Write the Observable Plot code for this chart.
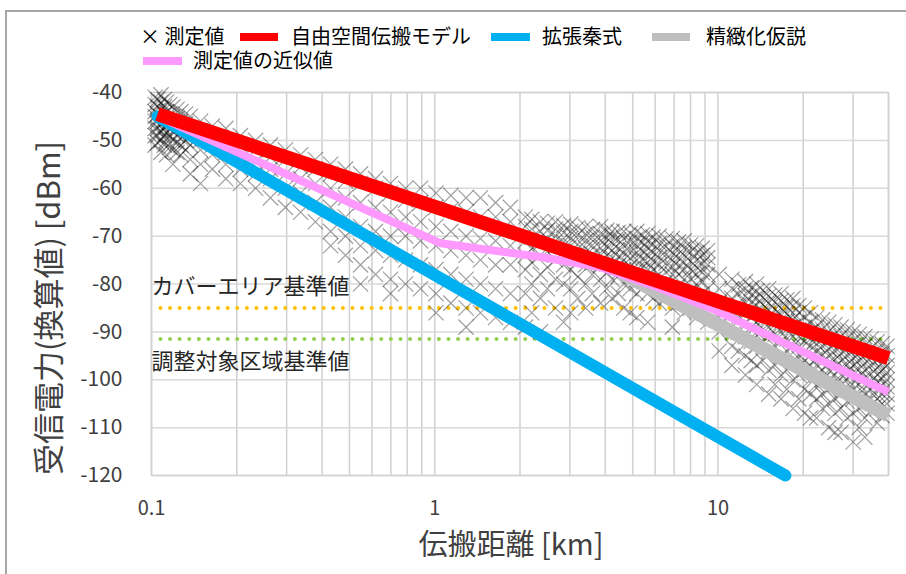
<!DOCTYPE html>
<html><head><meta charset="utf-8">
<script src="https://cdn.jsdelivr.net/npm/d3@7"></script>
<script src="https://cdn.jsdelivr.net/npm/@observablehq/plot@0.6"></script>
<style>
body{margin:0;background:#fff;font-family:"Noto Sans CJK JP","Noto Sans",sans-serif;}
#wrap{position:relative;width:906px;height:574px;overflow:hidden;background:#fff;}
#border{position:absolute;left:5px;top:10px;width:1000px;height:700px;border-left:2px solid #a6a6a6;border-top:2px solid #a6a6a6;}
#chart{position:absolute;left:0;top:75px;}
.lg{position:absolute;font-size:20px;color:#000;line-height:20px;white-space:nowrap;}
.sw{position:absolute;height:8px;}
</style></head>
<body><div id="wrap"><div id="border"></div><div id="legend"></div><div id="chart"></div></div>
<script>
// ---- data ----
const xTicks = [0.1, 1, 10];
const xGrid = [0.1,0.2,0.3,0.4,0.5,0.6,0.7,0.8,0.9,1,2,3,4,5,6,7,8,9,10,20,30,40];
const yTicks = [-40,-50,-60,-70,-80,-90,-100,-110,-120];

const seriesNames = ["測定値","自由空間伝搬モデル","拡張秦式","精緻化仮説","測定値の近似値"];

const freeSpaceDist = [0.105, 40];
const freeSpaceDbm = [-44.5, -95.5];
const hataDist = [0.105, 17.3];
const hataDbm = [-45, -120];
const refinedDist = [4.6, 40];
const refinedDbm = [-77.8, -107.5];
const approxDist = [0.105, 1.05, 2.4, 3.85, 6, 9.4, 40];
const approxDbm = [-45, -71.5, -74.4, -76.5, -80.5, -85, -102.6];

const refNames = ["カバーエリア基準値", "調整対象区域基準値"];
const refValues = [-85, -91.5];

const measDist = [0.103,0.108,0.113,0.119,0.127,0.137,0.149,0.164,0.183,0.206,0.233,0.263,0.297,0.336,0.379,0.429,0.484,0.547,0.618,0.698,0.789,0.891,1.01,1.14,1.29,1.45,1.64,1.85,2.09,2.36,2.67,3.02,3.41,3.85,4.23,4.65,5.17,5.65,6.2,6.9,7.6,8.4,9.2,10.1,11.2,12.5,13.7,15.1,16.7,18.4,20.2,22.3,24.6,27.2,30,33,36.5,39.5];
const measDbm = [
 [-41,-42.5,-44,-45,-46,-47.5,-49,-51],
 [-40.5,-42,-43.5,-45,-46.5,-48,-50,-52.5],
 [-42,-44,-45.5,-47,-48.5,-50,-53],
 [-43,-45,-47,-48,-50,-52,-55],
 [-44,-46,-48,-49.5,-51,-53],
 [-45,-47.5,-49,-51,-54,-57],
 [-46,-48,-50,-52,-55,-59],
 [-47,-49.5,-51,-53,-56],
 [-47.5,-50,-52.5,-55,-58],
 [-49,-51,-53,-56,-59],
 [-50,-52,-54.5,-57,-60],
 [-51,-53.5,-56,-58,-62],
 [-52,-54,-57,-60,-64],
 [-53,-55.5,-58,-61,-65],
 [-54,-56,-59,-63,-67],
 [-55,-57,-60,-64,-69,-72],
 [-56,-58.5,-62,-66,-70,-74],
 [-57,-59,-63,-68,-72,-76,-80],
 [-58,-60,-64,-69,-73,-78],
 [-59,-61,-65,-70,-74,-79,-82],
 [-60,-62.5,-66,-70,-75,-80],
 [-60,-63,-67,-71,-76,-81],
 [-61,-64,-68,-72,-77,-82,-86],
 [-61.5,-64.5,-69,-73,-78,-84],
 [-62,-65,-70,-74,-79,-85,-89],
 [-62,-66,-70.5,-75,-80,-86],
 [-63,-66,-71,-76,-81,-87],
 [-64,-67,-72,-76,-82,-88],
 [-66,-68,-71,-74,-77,-82,-89],
 [-67,-69,-71.5,-74,-78,-83,-90],
 [-67,-68.5,-70,-72,-75,-79,-85],
 [-67.5,-69,-70.5,-72,-74,-77,-81,-86],
 [-68,-69.5,-71,-72.5,-74,-76,-80,-85],
 [-68,-69.5,-71,-72.5,-74,-76,-79,-84],
 [-69,-70,-71.5,-73,-74.5,-76,-79,-83],
 [-69,-70.5,-72,-73.5,-75,-77,-80,-85],
 [-69,-70.5,-72,-73.5,-75,-77,-79,-82,-87],
 [-69.5,-71,-72.5,-74,-75.5,-77,-79,-82,-88],
 [-70,-71.5,-73,-74.5,-76,-78,-80,-84],
 [-70.5,-72,-73.5,-75,-76.5,-78,-81,-85,-89],
 [-71,-72.5,-74,-75.5,-77,-79,-82,-86],
 [-72,-73.5,-75,-76.5,-78,-80,-83,-87],
 [-73,-74.5,-76,-78,-81,-84,-88],
 [-78,-81,-84,-87,-90,-94],
 [-79,-81,-83,-86,-89,-93,-97],
 [-79.5,-81,-82.5,-84,-86,-88,-91,-95,-99],
 [-80,-81.5,-83,-84.5,-86,-88,-90,-93,-97,-101],
 [-81,-82.5,-84,-85.5,-87,-89,-91,-94,-98,-103],
 [-82,-83.5,-85,-86.5,-88,-90,-92,-95,-99,-104],
 [-83,-84.5,-86,-87.5,-89,-91,-93,-96,-100,-106],
 [-85,-87,-89,-90.5,-92,-94,-96,-98,-102,-107],
 [-87,-89,-91,-92.5,-94,-95.5,-97,-99,-101,-104,-108],
 [-88,-90,-92,-93.5,-95,-96.5,-98,-100,-102,-105,-110],
 [-89,-91,-93,-94.5,-96,-97.5,-99,-101,-103,-106,-111],
 [-90,-92,-94,-95.5,-97,-98.5,-100,-102,-104,-107,-113],
 [-91,-93,-95,-96.5,-98,-99.5,-101,-103,-105,-108,-112],
 [-92,-94,-96,-97.5,-99,-100.5,-102,-104,-106,-109],
 [-93,-95,-97,-98.5,-100,-101.5,-103,-105,-107]
];
// extra readings in the densest parts of the cloud
const measDist2 = [0.105,0.111,0.116,0.123,0.132,2.2,2.5,2.85,3.2,3.6,4.05,4.45,4.9,5.4,5.9,6.55,7.25,8,8.8,11.8,13.1,14.4,15.9,17.5,19.3,21.2,23.4,25.9,28.6,31.5,34.7,38];
const measDbm2 = [
 [-41.5,-43,-44.5,-46,-47.5,-49,-50.5],
 [-41.5,-43,-44.5,-46,-47.5,-49,-51],
 [-42.5,-44.5,-46,-47.5,-49,-51.5],
 [-43.5,-45.5,-47.5,-49,-50.5,-52.5],
 [-44.5,-46.5,-48.5,-50,-52],
 [-66.5,-68.5,-70.3,-72.7,-75.5,-80,-86],
 [-67.3,-68.8,-70.6,-73.2,-76.5,-81],
 [-67.8,-69.3,-71.2,-73.3,-76,-80,-88],
 [-68.2,-69.8,-71.7,-73.6,-75.3,-78.5,-83],
 [-68.6,-70.2,-71.9,-73.8,-75.6,-78,-82],
 [-68.8,-70.4,-72.1,-74,-75.8,-77.6,-81],
 [-69.2,-70.8,-72.6,-74.3,-76.2,-78.3,-82],
 [-69.4,-71.1,-72.8,-74.6,-76.3,-78.2,-81,-86],
 [-69.8,-71.3,-73.1,-74.8,-76.5,-78.6,-81],
 [-70.2,-71.7,-73.4,-75.2,-77,-79,-83],
 [-70.6,-72.2,-73.9,-75.7,-77.5,-79.6,-83],
 [-71.2,-72.8,-74.6,-76.3,-78,-80.5,-84],
 [-71.8,-73.3,-75.2,-77,-79,-81.5,-85],
 [-72.5,-74,-75.8,-77.6,-79.5,-82],
 [-80.2,-82,-84.5,-87,-90,-94],
 [-80.8,-82.3,-83.8,-85.3,-87,-89,-92,-96],
 [-81.3,-82.8,-84.3,-85.8,-87.5,-89.5,-92,-96],
 [-82.3,-83.8,-85.3,-86.8,-88.5,-90.5,-93,-97,-101],
 [-83.3,-84.8,-86.3,-87.8,-89.5,-91.5,-94,-98,-102],
 [-84.5,-86,-87.8,-89.5,-91,-93,-95.5,-99,-104],
 [-86,-88,-90,-91.5,-93,-95,-97,-100,-103,-108],
 [-87.5,-89.5,-91.5,-93,-94.8,-96.3,-98,-100,-103,-106],
 [-88.5,-90.5,-92.5,-94,-95.8,-97.3,-99,-101,-104,-107,-111],
 [-89.5,-91.5,-93.5,-95,-96.8,-98.3,-100,-102,-104.5,-108],
 [-90.5,-92.5,-94.5,-96,-97.8,-99.3,-101,-103,-106,-110],
 [-91.5,-93.5,-95.5,-97,-98.8,-100.3,-102,-104,-106.5],
 [-92.5,-94.5,-96.5,-98,-99.8,-101.3,-103,-105,-107.5]
];

// ---- tables ----
const measured = [
  ...measDist.flatMap((d, i) => measDbm[i].map(v => ({d, v}))),
  ...measDist2.flatMap((d, i) => measDbm2[i].map(v => ({d, v})))
];
const toRows = (ds, vs) => ds.map((d, i) => ({d, v: vs[i]}));
const freeSpace = toRows(freeSpaceDist, freeSpaceDbm);
const hata = toRows(hataDist, hataDbm);
const refined = toRows(refinedDist, refinedDbm);
const approx = toRows(approxDist, approxDbm);

const font = '"Noto Sans CJK JP","Noto Sans",sans-serif';
const chart = Plot.plot({
  width: 906, height: 499,
  marginTop: 17, marginBottom: 99, marginLeft: 151, marginRight: 18,
  style: {fontFamily: font, color: "#404040", background: "transparent", overflow: "visible"},
  x: {type: "log", domain: [0.1, 40], label: null},
  y: {domain: [-120, -40], label: null},
  marks: [
    Plot.ruleX(xGrid, {stroke: "#d0d0d0", strokeWidth: 1.5}),
    Plot.ruleY(yTicks, {stroke: "#d9d9d9", strokeWidth: 1.5}),
    Plot.frame({stroke: "#d0d0d0", strokeWidth: 1.5}),
    Plot.axisX(xTicks, {tickSize: 0, tickPadding: 25, fontSize: 20, tickFormat: d => String(d), label: null}),
    Plot.axisY(yTicks, {tickSize: 0, tickPadding: 29, fontSize: 21, tickFormat: d => String(d), label: null}),
    Plot.ruleY([refValues[0]], {x1: 0.108, x2: 40, stroke: "#FFC000", strokeWidth: 4, strokeDasharray: "0 9.6", strokeLinecap: "round"}),
    Plot.ruleY([refValues[1]], {x1: 0.108, x2: 40, stroke: "#92D050", strokeWidth: 4, strokeDasharray: "0 9.6", strokeLinecap: "round"}),
    Plot.dot(measured, {x: "d", y: "v", symbol: "times", r: 7, stroke: "#000", strokeOpacity: 0.38, strokeWidth: 1.2}),
    Plot.line(hata, {x: "d", y: "v", stroke: "#00B0F0", strokeWidth: 12, strokeLinecap: "round"}),
    Plot.line(refined, {x: "d", y: "v", stroke: "#BFBFBF", strokeWidth: 14, strokeLinecap: "butt"}),
    Plot.line(approx, {x: "d", y: "v", stroke: "#FF99FF", strokeWidth: 8, strokeLinecap: "butt", strokeLinejoin: "round"}),
    Plot.line(freeSpace, {x: "d", y: "v", stroke: "#FF0000", strokeWidth: 14, strokeLinecap: "butt"}),
    Plot.text([refNames[0]], {x: 0.1, y: refValues[0], text: d => d, textAnchor: "start", dy: -21, fontSize: 22, fill: "#262626"}),
    Plot.text([refNames[1]], {x: 0.1, y: refValues[1], text: d => d, textAnchor: "start", dy: 23, fontSize: 22, fill: "#262626"}),
    Plot.text(["受信電力(換算値) [dBm]"], {frameAnchor: "left", text: d => d, rotate: -90, textAnchor: "middle", dx: -101, dy: 24, fontSize: 31, fill: "#404040"}),
    Plot.text(["伝搬距離 [km]"], {frameAnchor: "bottom", text: d => d, dx: -9, dy: 79, fontSize: 29, fill: "#404040"})
  ]
});
document.getElementById("chart").appendChild(chart);

// ---- legend ----
const legendItems = [
  {name: seriesNames[0], color: null, sx: 0, tx: 140, y: 37},
  {name: seriesNames[1], color: "#FF0000", sx: 240, sw: 38, tx: 291, y: 37},
  {name: seriesNames[2], color: "#00B0F0", sx: 491, sw: 39, tx: 542, y: 37},
  {name: seriesNames[3], color: "#BFBFBF", sx: 652, sw: 38, tx: 706, y: 37},
  {name: seriesNames[4], color: "#FF99FF", sx: 143, sw: 39, tx: 193, y: 61}
];
const lg = document.getElementById("legend");
for (const it of legendItems) {
  if (it.color) {
    const s = document.createElement("div");
    s.className = "sw";
    s.style.cssText = `left:${it.sx}px;top:${it.y - 4}px;width:${it.sw}px;background:${it.color};`;
    lg.appendChild(s);
  }
  const t = document.createElement("div");
  t.className = "lg";
  t.style.left = it.tx + "px";
  t.style.top = (it.y - 11) + "px";
  t.textContent = it.color ? it.name : "× " + it.name;
  lg.appendChild(t);
}
</script></body></html>
